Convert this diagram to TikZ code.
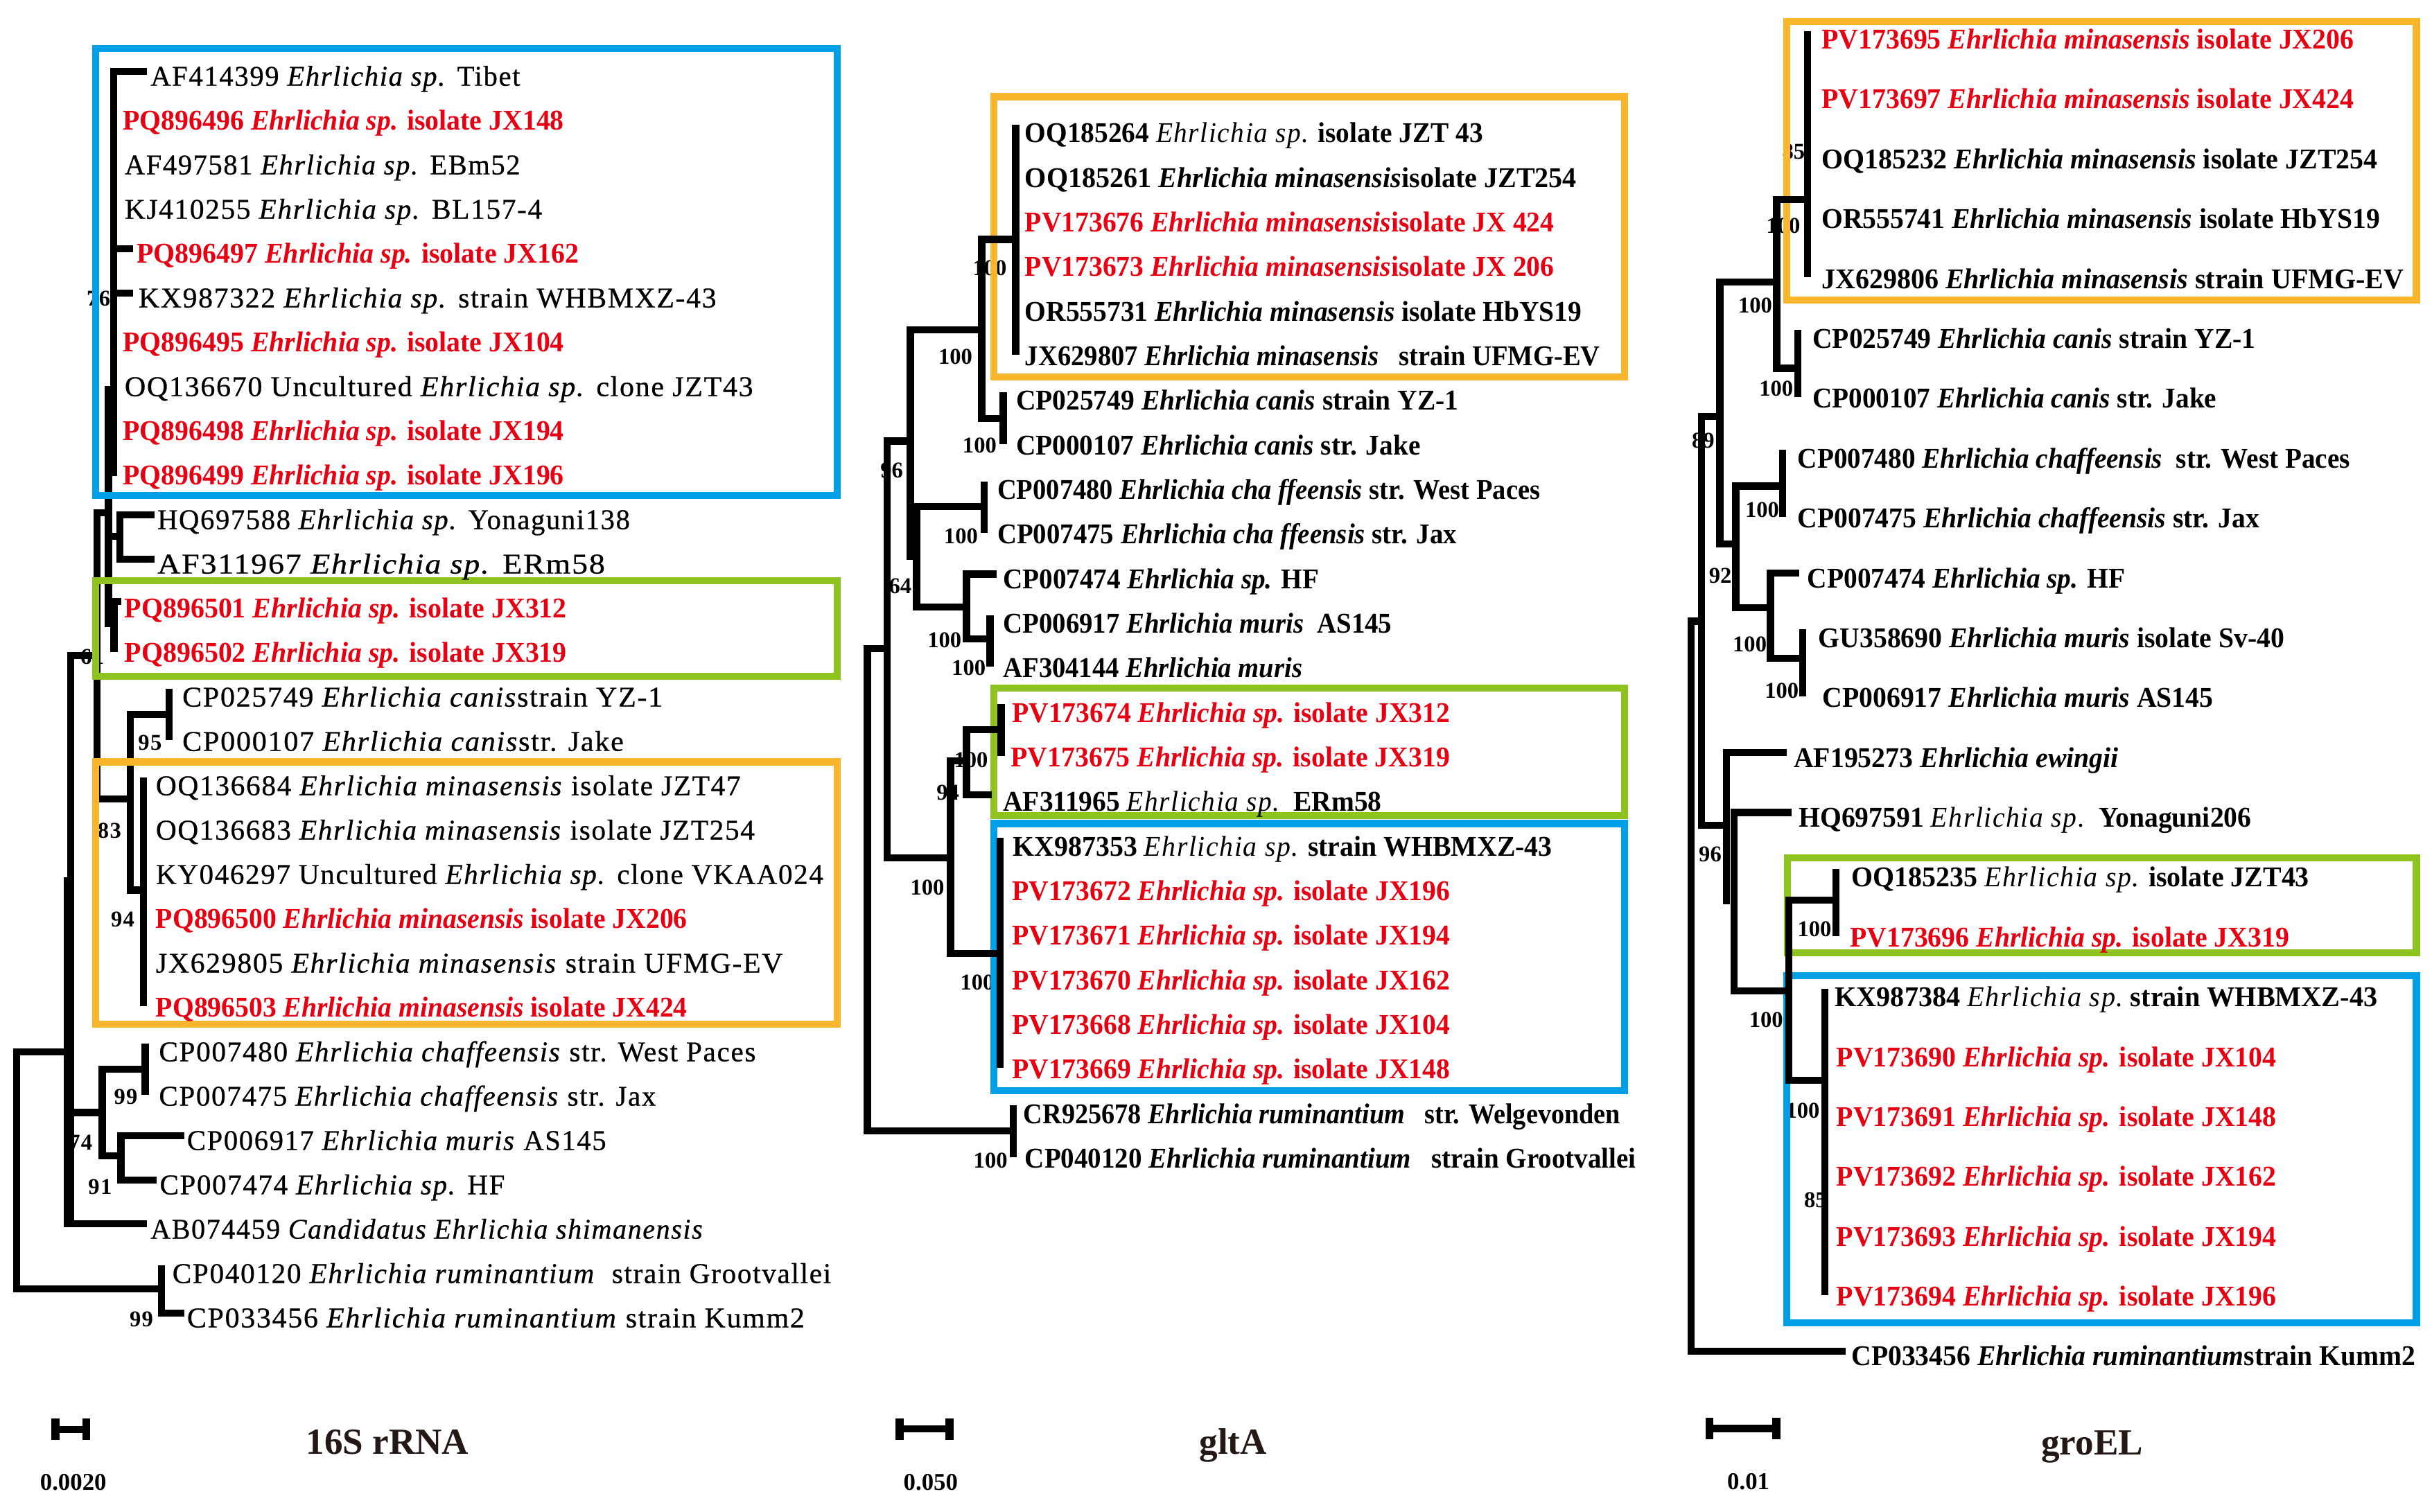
\documentclass[tikz,border=0pt]{standalone}
\usepackage{fontspec}
\usepackage{graphicx}
\setmainfont{Liberation Serif}
\newfontfamily\lsp[LetterSpace=4.0]{Liberation Serif}
\newfontfamily\lspm[LetterSpace=4.0,FakeBold=0.6]{Liberation Serif}
\definecolor{tred}{HTML}{E60012}
\definecolor{bboxc}{HTML}{00A0E9}
\definecolor{gboxc}{HTML}{8FC31F}
\definecolor{oboxc}{HTML}{F8B62D}
\definecolor{ttlc}{HTML}{231815}
\newcommand\fsz{\fontsize{12.45pt}{14pt}\selectfont}
\newcommand\fR{\fsz\bfseries\color{tred}}
\newcommand\fB{\fsz\bfseries}
\newcommand\fL{\fsz\lspm}
\newcommand\ei[1]{\textit{#1}}
\newcommand\es[1]{{\lsp\mdseries\itshape #1}}
\newsavebox\labbox
\newlength\labw
\newcommand\fitlab[3]{% target width (units), font, text
  \sbox\labbox{#2#3}%
  \setlength\labw{\wd\labbox}%
  \pgfmathsetmacro\labsx{(#1)*0.711319/\labw}%
  \scalebox{\labsx}[1.05]{\usebox\labbox}}
\newcommand\Lab[6]{%
  \node[lab] (#1) at (#2,#3) {\fitlab{(#4)-(#2)}{#5}{#6}};%
}
\tikzset{
  br/.style={line width=0.115cm, line cap=rect, line join=miter},
  bx/.style={line width=0.1125cm},
  lab/.style={anchor=base west, inner sep=0pt, outer sep=0pt},
  bs/.style={anchor=east, inner sep=0pt, font=\fontsize{10.3pt}{12pt}\selectfont\bfseries},
  bsl/.style={anchor=east, inner sep=0pt, font=\fontsize{10.3pt}{12pt}\selectfont\lsp\bfseries},
  ttl/.style={anchor=base, inner sep=0pt, text=ttlc, font=\fontsize{16.8pt}{19pt}\selectfont\bfseries},
  sbl/.style={anchor=base, inner sep=0pt, font=\fontsize{11pt}{13pt}\selectfont\bfseries},
  sbar/.style={line width=0.1125cm},
  scap/.style={line width=0.13cm},
}
\begin{document}
\begin{tikzpicture}[x=0.025cm,y=-0.025cm]
\fill[white] (0,0) rectangle (1560,970);
\useasboundingbox (0,0) rectangle (1560,970);

% ================= 16S rRNA =================
\node[bsl] (a76) at (71,191.5) {76};
\node[bsl] (a61) at (67,421.5) {61};
\node[bsl] (a95) at (104,476.5) {95};
\node[bsl] (a83) at (78,533) {83};
\node[bsl] (a94) at (86.5,590) {94};
\node[bsl] (a99a) at (88.5,703.5) {99};
\node[bsl] (a74) at (59.5,733) {74};
\node[bsl] (a91) at (72,761.5) {91};
\node[bsl] (a99b) at (98.5,846.5) {99};

\draw[br] (72.8,45.8) -- (72.8,303);
\draw[br] (72.8,45.8) -- (92,45.8);
\draw[br] (72.8,159.6) -- (83,159.6);
\draw[br] (72.8,188) -- (83,188);
\draw[br] (69.5,250) -- (69.5,400);
\draw[br] (62.2,329) -- (69.5,329);
\draw[br] (77,330.3) -- (77,358.75);
\draw[br] (77,330.3) -- (97,330.3);
\draw[br] (77,358.75) -- (97,358.75);
\draw[br] (69.5,344) -- (77,344);
\draw[br] (73.2,386) -- (73.2,416);
\draw[br] (69.5,386) -- (75.6,386);
\draw[br] (62.2,329) -- (62.2,512.5);
\draw[br] (45.4,420.7) -- (62.2,420.7);
\draw[br] (45.4,420.7) -- (45.4,785);
\draw[br] (43,565) -- (43,785);
\draw[br] (10.7,675) -- (43,675);
\draw[br] (10.7,675) -- (10.7,826.9);
\draw[br] (10.7,826.9) -- (103.5,826.9);
\draw[br] (103.5,813.95) -- (103.5,842.4);
\draw[br] (103.5,842.4) -- (116,842.4);
\draw[br] (45.4,785) -- (92,785);
\draw[br] (45.4,713.8) -- (65.5,713.8);
\draw[br] (65.5,686) -- (65.5,741.5);
\draw[br] (65.5,686) -- (93.2,686);
\draw[br] (93.2,671.7) -- (93.2,700.15);
\draw[br] (65.5,741.5) -- (77.5,741.5);
\draw[br] (77.5,728.6) -- (77.5,757);
\draw[br] (77.5,728.6) -- (116,728.6);
\draw[br] (77.5,757) -- (98.3,757);
\draw[br] (62.2,512.5) -- (83.5,512.5);
\draw[br] (83.5,458.4) -- (83.5,571);
\draw[br] (83.5,458.4) -- (108.6,458.4);
\draw[br] (108.6,444.1) -- (108.6,472.55);
\draw[br] (83.5,571) -- (92.1,571);
\draw[br] (92.1,501) -- (92.1,643.25);

\draw[bx,bboxc] (61.5,31.2) rectangle (537,317.9);
\draw[bx,gboxc] (61.5,372.7) rectangle (537,434);
\draw[bx,oboxc] (61.5,488.8) rectangle (537,657.2);

\Lab{s1}{96.6}{55}{333.6}{\fL}{AF414399 \ei{Ehrlichia sp.} Tibet}
\Lab{s2}{79}{83.45}{361.7}{\fR}{PQ896496 \ei{Ehrlichia sp.} isolate JX148}
\Lab{s3}{80}{111.9}{333.6}{\fL}{AF497581 \ei{Ehrlichia sp.} EBm52}
\Lab{s4}{80}{140.35}{347.7}{\fL}{KJ410255 \ei{Ehrlichia sp.} BL157-4}
\Lab{s5}{87.8}{168.8}{371.2}{\fR}{PQ896497 \ei{Ehrlichia sp.} isolate JX162}
\Lab{s6}{88.9}{197.25}{459.4}{\fL}{KX987322 \ei{Ehrlichia sp.} strain WHBMXZ-43}
\Lab{s7}{79}{225.7}{361.7}{\fR}{PQ896495 \ei{Ehrlichia sp.} isolate JX104}
\Lab{s8}{80}{254.15}{483}{\fL}{OQ136670 Uncultured \ei{Ehrlichia sp.} clone JZT43}
\Lab{s9}{79}{282.6}{361.7}{\fR}{PQ896498 \ei{Ehrlichia sp.} isolate JX194}
\Lab{s10}{79}{311.05}{361.7}{\fR}{PQ896499 \ei{Ehrlichia sp.} isolate JX196}
\Lab{s11}{101}{339.5}{404}{\fL}{HQ697588 \ei{Ehrlichia sp.} Yonaguni138}
\Lab{s12}{101}{367.95}{388}{\fL}{AF311967 \ei{Ehrlichia sp.} ERm58}
\Lab{s13}{80}{396.4}{363.5}{\fR}{PQ896501 \ei{Ehrlichia sp.} isolate JX312}
\Lab{s14}{80}{424.85}{363.5}{\fR}{PQ896502 \ei{Ehrlichia sp.} isolate JX319}
\Lab{s15}{117}{453.3}{425}{\fL}{CP025749 \ei{Ehrlichia canis}strain YZ-1}
\Lab{s16}{117}{481.75}{400}{\fL}{CP000107 \ei{Ehrlichia canis}str. Jake}
\Lab{s17}{100}{510.2}{475}{\fL}{OQ136684 \ei{Ehrlichia minasensis} isolate JZT47}
\Lab{s18}{100}{538.65}{484}{\fL}{OQ136683 \ei{Ehrlichia minasensis} isolate JZT254}
\Lab{s19}{100}{567.1}{528}{\fL}{KY046297 Uncultured \ei{Ehrlichia sp.} clone VKAA024}
\Lab{s20}{100}{595.55}{440.8}{\fR}{PQ896500 \ei{Ehrlichia minasensis} isolate JX206}
\Lab{s21}{100}{624}{502}{\fL}{JX629805 \ei{Ehrlichia minasensis} strain UFMG-EV}
\Lab{s22}{100}{652.45}{440.8}{\fR}{PQ896503 \ei{Ehrlichia minasensis} isolate JX424}
\Lab{s23}{102}{680.9}{484.7}{\fL}{CP007480 \ei{Ehrlichia chaffeensis} str. West Paces}
\Lab{s24}{102}{709.35}{420.7}{\fL}{CP007475 \ei{Ehrlichia chaffeensis} str. Jax}
\Lab{s25}{120}{737.8}{388.8}{\fL}{CP006917 \ei{Ehrlichia muris} AS145}
\Lab{s26}{102.5}{766.25}{323.8}{\fL}{CP007474 \ei{Ehrlichia sp.} HF}
\Lab{s27}{96.6}{794.7}{451.3}{\fL}{AB074459 \ei{Candidatus Ehrlichia shimanensis}}
\Lab{s28}{110.6}{823.15}{533}{\fL}{CP040120 \ei{Ehrlichia ruminantium}\ \ strain Grootvallei}
\Lab{s29}{120}{851.6}{516}{\fL}{CP033456 \ei{Ehrlichia ruminantium} strain Kumm2}

% ================= gltA =================
\node[bs] (c1) at (646,172) {100};
\node[bs] (c2) at (624,229) {100};
\node[bs] (c3) at (639.5,286) {100};
\node[bs] (c4) at (579.5,302) {96};
\node[bs] (c5) at (627.5,344) {100};
\node[bs] (c6) at (585,376) {64};
\node[bs] (c7) at (617,410.5) {100};
\node[bs] (c8) at (632.5,428.5) {100};
\node[bs] (c9) at (634,487.5) {100};
\node[bs] (c10) at (615.5,508.5) {94};
\node[bs] (c11) at (606,569.5) {100};
\node[bs] (c12) at (638,630.5) {100};
\node[bs] (c13) at (646.5,744.5) {100};

\draw[bx,oboxc] (637.5,62) rectangle (1042,241.7);
\draw[bx,gboxc] (637.5,441.5) rectangle (1042,523.4);
\draw[bx,bboxc] (637.5,528.4) rectangle (1042,699.6);

\draw[br] (651.5,82.3) -- (651.5,225.3);
\draw[br] (629.8,153.6) -- (651.5,153.6);
\draw[br] (629.8,153.6) -- (629.8,268.5);
\draw[br] (629.8,268.5) -- (643.5,268.5);
\draw[br] (643.5,253.9) -- (643.5,282.5);
\draw[br] (584,211.6) -- (629.8,211.6);
\draw[br] (584,211.6) -- (584,357);
\draw[br] (569,283) -- (584,283);
\draw[br] (588,325) -- (588,389.4);
\draw[br] (588,325) -- (631.2,325);
\draw[br] (631.2,311.1) -- (631.2,339.7);
\draw[br] (588,389.4) -- (620,389.4);
\draw[br] (620,368.3) -- (620,410);
\draw[br] (620,368.3) -- (637,368.3);
\draw[br] (620,410) -- (635,410);
\draw[br] (635,396.9) -- (635,425.5);
\draw[br] (569,283) -- (569,550.4);
\draw[br] (556.3,416) -- (569,416);
\draw[br] (556.3,416) -- (556.3,725.5);
\draw[br] (556.3,725.5) -- (650,725.5);
\draw[br] (650,711.5) -- (650,740.1);
\draw[br] (569,550.4) -- (609.8,550.4);
\draw[br] (609.8,488) -- (609.8,611.7);
\draw[br] (609.8,488) -- (620,488);
\draw[br] (620,468) -- (620,510);
\draw[br] (620,468) -- (642.2,468);
\draw[br] (642.2,454.1) -- (642.2,482.7);
\draw[br] (620,510) -- (634,510);
\draw[br] (609.8,611.7) -- (641.6,611.7);
\draw[br] (641.6,539.9) -- (641.6,682.9);

\Lab{g1}{657.5}{91.5}{951.3}{\fB}{OQ185264 \es{Ehrlichia sp.} isolate JZT 43}
\Lab{g2}{657.5}{120.1}{1011.3}{\fB}{OQ185261 \ei{Ehrlichia minasensis}isolate JZT254}
\Lab{g3}{657.5}{148.7}{996.9}{\fR}{PV173676 \ei{Ehrlichia minasensis}isolate JX 424}
\Lab{g4}{657.5}{177.3}{996.9}{\fR}{PV173673 \ei{Ehrlichia minasensis}isolate JX 206}
\Lab{g5}{657.5}{205.9}{1014.6}{\fB}{OR555731 \ei{Ehrlichia minasensis} isolate HbYS19}
\Lab{g6}{657.5}{234.5}{1026.3}{\fB}{JX629807 \ei{Ehrlichia minasensis}\ \ \ strain UFMG-EV}
\Lab{g7}{651.8}{263.1}{935.5}{\fB}{CP025749 \ei{Ehrlichia canis} strain YZ-1}
\Lab{g8}{651.8}{291.7}{911.1}{\fB}{CP000107 \ei{Ehrlichia canis} str. Jake}
\Lab{g9}{639.8}{320.3}{987.9}{\fB}{CP007480 \ei{Ehrlichia cha ffeensis} str. West Paces}
\Lab{g10}{639.8}{348.9}{934.5}{\fB}{CP007475 \ei{Ehrlichia cha ffeensis} str. Jax}
\Lab{g11}{643.5}{377.5}{846}{\fB}{CP007474 \ei{Ehrlichia sp.} HF}
\Lab{g12}{643.5}{406.1}{892.8}{\fB}{CP006917 \ei{Ehrlichia muris}\ \ AS145}
\Lab{g13}{643.5}{434.7}{835.4}{\fB}{AF304144 \ei{Ehrlichia muris}}
\Lab{g14}{649.2}{463.3}{930}{\fR}{PV173674 \ei{Ehrlichia sp.} isolate JX312}
\Lab{g15}{648.5}{491.9}{930}{\fR}{PV173675 \ei{Ehrlichia sp.} isolate JX319}
\Lab{g16}{643.5}{520.5}{886.2}{\fB}{AF311965 \es{Ehrlichia sp.}\ \ ERm58}
\Lab{g17}{649.9}{549.1}{995.6}{\fB}{KX987353 \es{Ehrlichia sp.} strain WHBMXZ-43}
\Lab{g18}{649.2}{577.7}{930}{\fR}{PV173672 \ei{Ehrlichia sp.} isolate JX196}
\Lab{g19}{649.2}{606.3}{930}{\fR}{PV173671 \ei{Ehrlichia sp.} isolate JX194}
\Lab{g20}{649.2}{634.9}{930}{\fR}{PV173670 \ei{Ehrlichia sp.} isolate JX162}
\Lab{g21}{649.2}{663.5}{930}{\fR}{PV173668 \ei{Ehrlichia sp.} isolate JX104}
\Lab{g22}{649.2}{692.1}{930}{\fR}{PV173669 \ei{Ehrlichia sp.} isolate JX148}
\Lab{g23}{656.6}{720.7}{1039.3}{\fB}{CR925678 \ei{Ehrlichia ruminantium}\ \ \ str. Welgevonden}
\Lab{g24}{657.5}{749.3}{1049.3}{\fB}{CP040120 \ei{Ehrlichia ruminantium}\ \ \ strain Grootvallei}

% ================= groEL =================
\node[bs] (d1) at (1158,97.5) {85};
\node[bs] (d2) at (1155,145) {100};
\node[bs] (d3) at (1150.5,249.5) {100};
\node[bs] (d4) at (1137,196) {100};
\node[bs] (d5) at (1100,282.5) {89};
\node[bs] (d6) at (1141.5,327) {100};
\node[bs] (d7) at (1111,369.5) {92};
\node[bs] (d8) at (1133.5,413.5) {100};
\node[bs] (d9) at (1154,443) {100};
\node[bs] (d10) at (1104.5,548) {96};
\node[bs] (d11) at (1175,596) {100};
\node[bs] (d12) at (1144,654.5) {100};
\node[bs] (d13) at (1167.5,712.5) {100};
\node[bs] (d14) at (1172,770) {85};

\draw[bx,oboxc] (1146,13.9) rectangle (1550,192.5);
\draw[bx,gboxc] (1146.5,550.3) rectangle (1550,611.4);
\draw[bx,bboxc] (1146,626) rectangle (1550,848.5);

\draw[br] (1159.5,22.1) -- (1159.5,175.7);
\draw[br] (1139.7,128) -- (1159.5,128);
\draw[br] (1139.7,128) -- (1139.7,236.3);
\draw[br] (1139.7,236.3) -- (1153.2,236.3);
\draw[br] (1153.2,214.1) -- (1153.2,252.5);
\draw[br] (1103.2,181) -- (1139.7,181);
\draw[br] (1103.2,181) -- (1103.2,349);
\draw[br] (1091.3,267.3) -- (1103.2,267.3);
\draw[br] (1103.2,349) -- (1113.4,349);
\draw[br] (1113.4,311.8) -- (1113.4,390);
\draw[br] (1113.4,311.8) -- (1143.5,311.8);
\draw[br] (1143.5,290.9) -- (1143.5,329.3);
\draw[br] (1113.4,390) -- (1135.6,390);
\draw[br] (1135.6,367.7) -- (1135.6,422.4);
\draw[br] (1135.6,367.7) -- (1152,367.7);
\draw[br] (1135.6,422.4) -- (1156.2,422.4);
\draw[br] (1156.2,406.1) -- (1156.2,444.5);
\draw[br] (1091.3,267.3) -- (1091.3,529.6);
\draw[br] (1084.7,398.5) -- (1091.3,398.5);
\draw[br] (1084.7,398.5) -- (1084.7,866.9);
\draw[br] (1084.7,866.9) -- (1181.8,866.9);
\draw[br] (1091.3,529.6) -- (1107.5,529.6);
\draw[br] (1107.5,482.9) -- (1107.5,578);
\draw[br] (1107.5,482.9) -- (1144,482.9);
\draw[br] (1112.3,521.3) -- (1112.3,635.6);
\draw[br] (1112.3,521.3) -- (1147,521.3);
\draw[br] (1112.3,635.6) -- (1147.5,635.6);
\draw[br] (1147.5,577.6) -- (1147.5,693);
\draw[br] (1147.5,577.6) -- (1177.6,577.6);
\draw[br] (1177.6,559.7) -- (1177.6,598.1);
\draw[br] (1147.5,693) -- (1170.6,693);
\draw[br] (1170.6,636.5) -- (1170.6,828.5);

\Lab{e1}{1168.4}{31.4}{1509.9}{\fR}{PV173695 \ei{Ehrlichia minasensis} isolate JX206}
\Lab{e2}{1168.4}{69.8}{1509.9}{\fR}{PV173697 \ei{Ehrlichia minasensis} isolate JX424}
\Lab{e3}{1168.4}{108.2}{1525}{\fB}{OQ185232 \ei{Ehrlichia minasensis} isolate JZT254}
\Lab{e4}{1168.4}{146.6}{1526.5}{\fB}{OR555741 \ei{Ehrlichia minasensis} isolate HbYS19}
\Lab{e5}{1168.4}{185}{1541.8}{\fB}{JX629806 \ei{Ehrlichia minasensis} strain UFMG-EV}
\Lab{e6}{1162.7}{223.4}{1446.7}{\fB}{CP025749 \ei{Ehrlichia canis} strain YZ-1}
\Lab{e7}{1162.7}{261.8}{1421.8}{\fB}{CP000107 \ei{Ehrlichia canis} str. Jake}
\Lab{e8}{1153.1}{300.2}{1507.4}{\fB}{CP007480 \ei{Ehrlichia chaffeensis}\ \ str. West Paces}
\Lab{e9}{1153.1}{338.6}{1449.3}{\fB}{CP007475 \ei{Ehrlichia chaffeensis} str. Jax}
\Lab{e10}{1159.4}{377}{1363.1}{\fB}{CP007474 \ei{Ehrlichia sp.} HF}
\Lab{e11}{1166.5}{415.4}{1465.2}{\fB}{GU358690 \ei{Ehrlichia muris} isolate Sv-40}
\Lab{e12}{1169}{453.8}{1419.6}{\fB}{CP006917 \ei{Ehrlichia muris} AS145}
\Lab{e13}{1150.6}{492.2}{1358.9}{\fB}{AF195273 \ei{Ehrlichia ewingii}}
\Lab{e14}{1153.8}{530.6}{1444.1}{\fB}{HQ697591 \es{Ehrlichia sp.}\ \ Yonaguni206}
\Lab{e15}{1187.6}{569}{1481.2}{\fB}{OQ185235 \es{Ehrlichia sp.} isolate JZT43}
\Lab{e16}{1186.7}{607.4}{1468.4}{\fR}{PV173696 \ei{Ehrlichia sp.} isolate JX319}
\Lab{e17}{1177}{645.8}{1524.9}{\fB}{KX987384 \es{Ehrlichia sp.}\ strain WHBMXZ-43}
\Lab{e18}{1178}{684.2}{1460.2}{\fR}{PV173690 \ei{Ehrlichia sp.} isolate JX104}
\Lab{e19}{1178}{722.6}{1460.2}{\fR}{PV173691 \ei{Ehrlichia sp.} isolate JX148}
\Lab{e20}{1178}{761}{1460.2}{\fR}{PV173692 \ei{Ehrlichia sp.} isolate JX162}
\Lab{e21}{1178}{799.4}{1460.2}{\fR}{PV173693 \ei{Ehrlichia sp.} isolate JX194}
\Lab{e22}{1178}{837.8}{1460.2}{\fR}{PV173694 \ei{Ehrlichia sp.} isolate JX196}
\Lab{e23}{1187.6}{876.2}{1549.5}{\fB}{CP033456 \ei{Ehrlichia ruminantium}strain Kumm2}

% ================= scale bars and titles =================
\draw[sbar] (33,917) -- (58,917);
\draw[scap] (35.6,910) -- (35.6,924);
\draw[scap] (55.4,910) -- (55.4,924);
\draw[sbar] (574.7,916.8) -- (611.7,916.8);
\draw[scap] (577.2,910) -- (577.2,923.6);
\draw[scap] (609.2,910) -- (609.2,923.6);
\draw[sbar] (1094,916.5) -- (1141.9,916.5);
\draw[scap] (1096.5,909.6) -- (1096.5,923.3);
\draw[scap] (1139.4,909.6) -- (1139.4,923.3);
\node[sbl] (sb1) at (47,956) {0.0020};
\node[sbl] (sb2) at (597,956) {0.050};
\node[sbl] (sb3) at (1121.5,955.5) {0.01};
\node[ttl] (t1) at (248.5,933) {16S rRNA};
\node[ttl] (t2) at (791,933) {gltA};
\node[ttl] (t3) at (1342,933.5) {groEL};
\end{tikzpicture}
\end{document}
